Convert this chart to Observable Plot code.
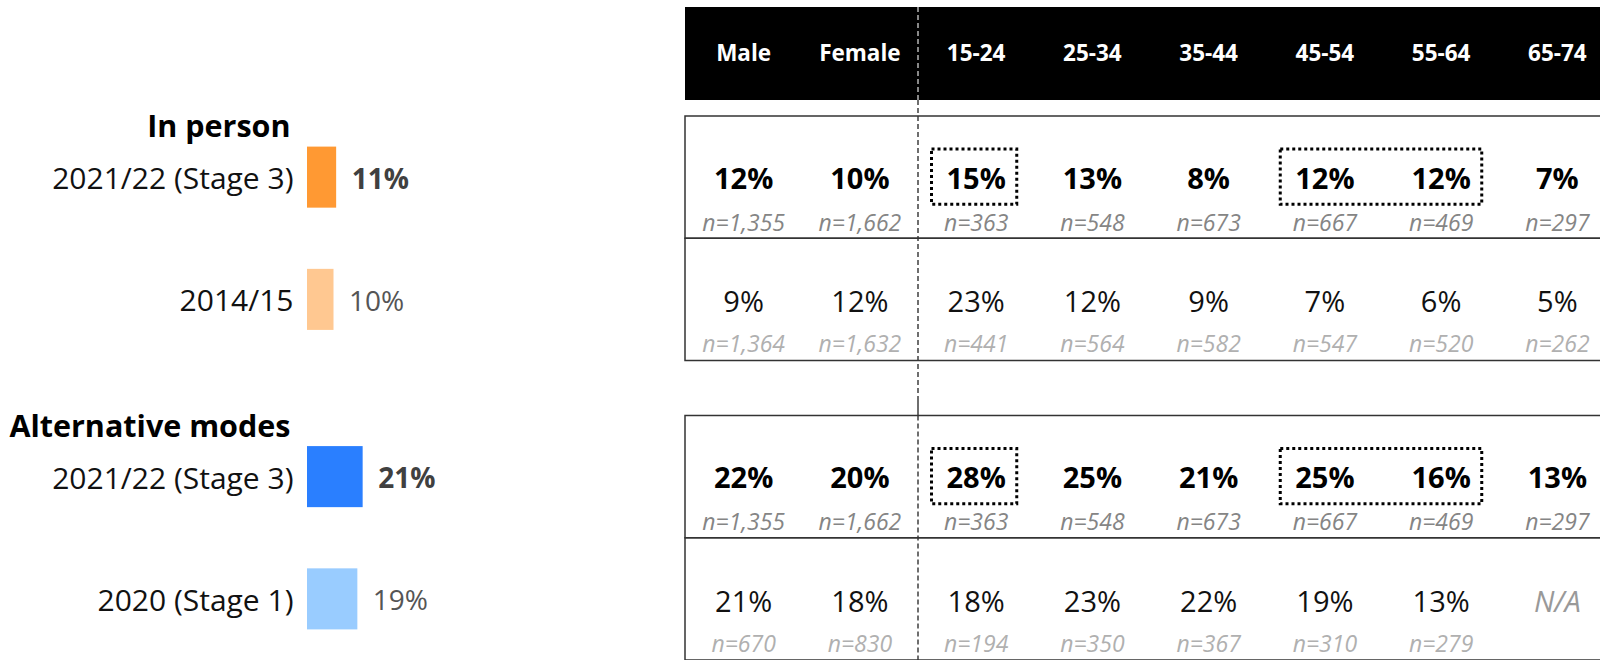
<!DOCTYPE html>
<html>
<head>
<meta charset="utf-8">
<script src="https://cdn.jsdelivr.net/npm/d3@7"></script>
<script src="https://cdn.jsdelivr.net/npm/@observablehq/plot@0.6"></script>
<style>
  html, body { margin: 0; padding: 0; background: #fff; }
  #chart { position: relative; width: 1600px; height: 660px; overflow: hidden; background: #fff; }
  #chart svg { position: absolute; left: 0; top: 0; max-width: none !important; overflow: hidden; background: transparent; }
</style>
</head>
<body>
<div id="chart"></div>
<script>
// ---------- data ----------
const groups = ["In person", "Alternative modes"];
const rowKeys = ["current", "previous"];
const periodLabels = [["2021/22 (Stage 3)", "2014/15"], ["2021/22 (Stage 3)", "2020 (Stage 1)"]];
const overallValues = [[11, 10], [21, 19]];

const columns = ["Male", "Female", "15-24", "25-34", "35-44", "45-54", "55-64", "65-74"];
const genderColumns = ["Male", "Female"];

const inPersonNow = [12, 10, 15, 13, 8, 12, 12, 7];
const inPersonNowN = [1355, 1662, 363, 548, 673, 667, 469, 297];
const inPersonThen = [9, 12, 23, 12, 9, 7, 6, 5];
const inPersonThenN = [1364, 1632, 441, 564, 582, 547, 520, 262];
const altNow = [22, 20, 28, 25, 21, 25, 16, 13];
const altNowN = [1355, 1662, 363, 548, 673, 667, 469, 297];
const altThen = [21, 18, 18, 23, 22, 19, 13, null];
const altThenN = [670, 830, 194, 350, 367, 310, 279, null];

const highlightSpans = [["15-24", "15-24"], ["45-54", "55-64"]];

// ---------- layout / style ----------
const W = 1600, H = 660;
const FONT = "'Open Sans', 'Noto Sans', sans-serif";
const tableTop = 116;
const tableLeft = 685;
const colStep = 116.25;
const barLeft = 307;
const pxPerPercent = 2.65;
const facetPad = 0.1836;
const barColors = ["#FF9933", "#FFC891", "#2A7FFF", "#99CCFF"];

const ncol = columns.length;
const colIndex = (c) => columns.indexOf(c);
const fmtN = d3.format(",");

const tableSeries = [
  [[inPersonNow, inPersonNowN], [inPersonThen, inPersonThenN]],
  [[altNow, altNowN], [altThen, altThenN]]
];

const cells = [];
groups.forEach((g, gi) => rowKeys.forEach((r, ri) => columns.forEach((c, ci) => {
  cells.push({group: g, row: r, col: ci, value: tableSeries[gi][ri][0][ci], n: tableSeries[gi][ri][1][ci]});
})));
const tableRows = groups.flatMap(g => rowKeys.map(r => ({group: g, row: r})));
const highlightData = groups.flatMap(g => highlightSpans.map(([a, b]) => ({group: g, row: "current", from: colIndex(a), to: colIndex(b)})));

const leftData = groups.flatMap((g, gi) => rowKeys.map((r, ri) => ({
  group: g, row: r, key: g + "|" + r, label: periodLabels[gi][ri], value: overallValues[gi][ri]
})));

const chart = document.getElementById("chart");
const baseStyle = {fontFamily: FONT, background: "transparent", overflow: "hidden"};

// ---------- left: overall bars ----------
const left = Plot.plot({
  width: W, height: H,
  marginTop: tableTop, marginBottom: 0,
  marginLeft: barLeft, marginRight: W - barLeft - 100 * pxPerPercent,
  style: baseStyle,
  x: {domain: [0, 100], axis: null},
  y: {domain: rowKeys, padding: 0, round: false, axis: null},
  fy: {domain: groups, paddingInner: facetPad, paddingOuter: 0, round: false, axis: null},
  color: {domain: leftData.map(d => d.key), range: barColors},
  marks: [
    Plot.barX(leftData, {x1: 0, x2: "value", y: "row", fy: "group", fill: "key", insetTop: 30.6, insetBottom: 30.6}),
    Plot.text(leftData, {x: 0, y: "row", fy: "group", text: "label", textAnchor: "end", dx: -14, dy: 2, fontSize: 30, fill: "#111"}),
    Plot.text(leftData.filter(d => d.row === "current"), {x: "value", y: "row", fy: "group", text: d => d.value + "%", textAnchor: "start", dx: 15, dy: 2, fontSize: 28, fontWeight: "bold", fill: "#404040"}),
    Plot.text(leftData.filter(d => d.row === "previous"), {x: "value", y: "row", fy: "group", text: d => d.value + "%", textAnchor: "start", dx: 15, dy: 2, fontSize: 28, fill: "#555"}),
    Plot.text(groups, {x: 0, y: () => "current", fy: d => d, text: d => d, textAnchor: "end", dx: -17, dy: -50, fontSize: 30.5, fontWeight: "bold", fill: "#000"})
  ]
});
chart.appendChild(left);

// ---------- header ----------
const header = Plot.plot({
  width: W, height: 100,
  marginTop: 7, marginBottom: 0, marginLeft: 0, marginRight: 0,
  style: baseStyle,
  x: {domain: [0, ncol], range: [tableLeft, tableLeft + colStep * ncol], axis: null},
  marks: [
    Plot.barX([0], {x1: 0, x2: ncol, fill: "black"}),
    Plot.ruleX([genderColumns.length], {stroke: "#888", strokeWidth: 2, strokeDasharray: "5,3"}),
    Plot.text(columns, {x: (d, i) => i + 0.5, text: d => d, frameAnchor: "middle", fill: "white", fontWeight: "bold", fontSize: 22.5})
  ]
});
chart.appendChild(header);

// ---------- table ----------
const table = Plot.plot({
  width: W, height: H,
  marginTop: tableTop, marginBottom: 0, marginLeft: 0, marginRight: 0,
  style: baseStyle,
  x: {domain: [0, ncol], range: [tableLeft, tableLeft + colStep * ncol], axis: null},
  y: {domain: rowKeys, padding: 0, round: false, axis: null},
  fy: {domain: groups, paddingInner: facetPad, paddingOuter: 0, round: false, axis: null},
  marks: [
    Plot.ruleX([genderColumns.length], {stroke: "#6e6e6e", strokeWidth: 2, strokeDasharray: "5,3", insetTop: -16, insetBottom: -56}),
    Plot.barX(tableRows, {x1: 0, x2: ncol, y: "row", fy: "group", fill: "none", stroke: "#333", strokeWidth: 1.5}),
    Plot.barX(highlightData, {x1: "from", x2: d => d.to + 1, y: "row", fy: "group", fill: "none", stroke: "#000", strokeWidth: 3, strokeDasharray: "3,3", insetLeft: 14, insetRight: 17, insetTop: 33, insetBottom: 34}),
    Plot.text(cells.filter(d => d.row === "current"), {x: d => d.col + 0.5, y: "row", fy: "group", text: d => d.value + "%", dy: 2, fontSize: 29, fontWeight: "bold", fill: "#000"}),
    Plot.text(cells.filter(d => d.row === "previous" && d.value != null), {x: d => d.col + 0.5, y: "row", fy: "group", text: d => d.value + "%", dy: 3, fontSize: 29, fill: "#111"}),
    Plot.text(cells.filter(d => d.value == null), {x: d => d.col + 0.5, y: "row", fy: "group", text: () => "N/A", dy: 3, fontSize: 29, fontStyle: "italic", fill: "#999"}),
    Plot.text(cells.filter(d => d.row === "current"), {x: d => d.col + 0.5, y: "row", fy: "group", text: d => "n=" + fmtN(d.n), dy: 46, fontSize: 23, fontStyle: "italic", fill: "#858585"}),
    Plot.text(cells.filter(d => d.row === "previous" && d.n != null), {x: d => d.col + 0.5, y: "row", fy: "group", text: d => "n=" + fmtN(d.n), dy: 45, fontSize: 23, fontStyle: "italic", fill: "#b0b0b0"})
  ]
});
chart.appendChild(table);
</script>
</body>
</html>
